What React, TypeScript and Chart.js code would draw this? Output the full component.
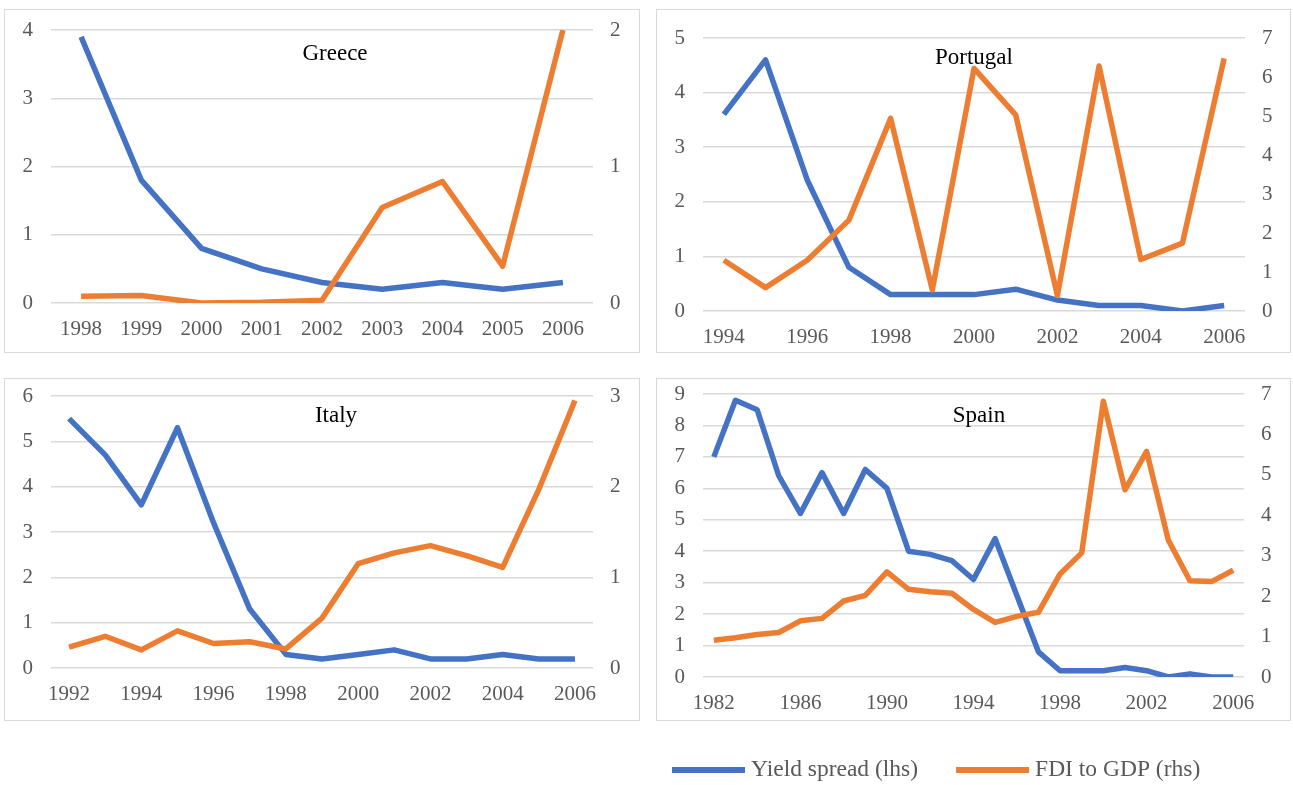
import React, { useEffect, useRef } from "react";
import { Chart, registerables } from "chart.js";

Chart.register(...registerables);

// ---------- DATA ----------
const greeceYears = ["1998", "1999", "2000", "2001", "2002", "2003", "2004", "2005", "2006"];
const greeceSpread = [3.9, 1.8, 0.8, 0.5, 0.3, 0.2, 0.3, 0.2, 0.3];
const greeceFdi = [0.05, 0.055, 0.0, 0.005, 0.02, 0.7, 0.89, 0.27, 2.0];

const portugalYears = ["1994", "1995", "1996", "1997", "1998", "1999", "2000", "2001", "2002", "2003", "2004", "2005", "2006"];
const portugalSpread = [3.6, 4.6, 2.4, 0.8, 0.3, 0.3, 0.3, 0.4, 0.2, 0.1, 0.1, 0.0, 0.1];
const portugalFdi = [1.3, 0.6, 1.3, 2.33, 4.94, 0.54, 6.22, 5.03, 0.4, 6.28, 1.32, 1.74, 6.48];

const italyYears = ["1992", "1993", "1994", "1995", "1996", "1997", "1998", "1999", "2000", "2001", "2002", "2003", "2004", "2005", "2006"];
const italySpread = [5.5, 4.7, 3.6, 5.3, 3.2, 1.3, 0.3, 0.2, 0.3, 0.4, 0.2, 0.2, 0.3, 0.2, 0.2];
const italyFdi = [0.23, 0.35, 0.2, 0.41, 0.27, 0.29, 0.21, 0.55, 1.15, 1.27, 1.35, 1.24, 1.11, 1.97, 2.95];

const spainYears = ["1982", "1983", "1984", "1985", "1986", "1987", "1988", "1989", "1990", "1991", "1992", "1993", "1994", "1995", "1996", "1997", "1998", "1999", "2000", "2001", "2002", "2003", "2004", "2005", "2006"];
const spainSpread = [7.0, 8.8, 8.5, 6.4, 5.2, 6.5, 5.2, 6.6, 6.0, 4.0, 3.9, 3.7, 3.1, 4.4, 2.6, 0.8, 0.2, 0.2, 0.2, 0.3, 0.2, 0.0, 0.1, 0.0, 0.0];
const spainFdi = [0.91, 0.97, 1.05, 1.1, 1.39, 1.45, 1.88, 2.02, 2.6, 2.17, 2.11, 2.07, 1.67, 1.35, 1.5, 1.6, 2.55, 3.07, 6.82, 4.63, 5.58, 3.39, 2.38, 2.36, 2.64];

const seriesNames = ["Yield spread (lhs)", "FDI to GDP (rhs)"];

// ---------- STYLE ----------
const BLUE = "#4472C4";
const ORANGE = "#ED7D31";
const GRID = "#D9D9D9";
const TEXT = "#595959";
const FONT = "'Liberation Serif', 'Times New Roman', serif";
const LINE_W = 5.5;

type PanelCfg = {
  title: string;
  labels: string[];
  spread: number[];
  fdi: number[];
  maxL: number;
  maxR: number;
  labelStep: number;
  box: { x: number; y: number; w: number; h: number };
  leftW: number;
  rightW: number;
  top: number;
  bottomH: number;
  titlePos: { x: number; y: number };
};

const panels: PanelCfg[] = [
  {
    title: "Greece", labels: greeceYears, spread: greeceSpread, fdi: greeceFdi, maxL: 4, maxR: 2, labelStep: 1,
    box: { x: 4, y: 9, w: 636, h: 344 }, leftW: 47, rightW: 47, top: 21, bottomH: 50, titlePos: { x: 331, y: 45 },
  },
  {
    title: "Portugal", labels: portugalYears, spread: portugalSpread, fdi: portugalFdi, maxL: 5, maxR: 7, labelStep: 2,
    box: { x: 656, y: 9, w: 635, h: 344 }, leftW: 47, rightW: 46, top: 29, bottomH: 42, titlePos: { x: 318, y: 49 },
  },
  {
    title: "Italy", labels: italyYears, spread: italySpread, fdi: italyFdi, maxL: 6, maxR: 3, labelStep: 2,
    box: { x: 4, y: 378, w: 636, h: 343 }, leftW: 47, rightW: 47, top: 18, bottomH: 53, titlePos: { x: 332, y: 38 },
  },
  {
    title: "Spain", labels: spainYears, spread: spainSpread, fdi: spainFdi, maxL: 9, maxR: 7, labelStep: 4,
    box: { x: 656, y: 378, w: 635, h: 343 }, leftW: 47, rightW: 47, top: 16, bottomH: 44, titlePos: { x: 323, y: 38 },
  },
];

const titlePlugin = {
  id: "panelTitle",
  afterDraw(chart: any, _args: any, opts: any) {
    const ctx = chart.ctx;
    ctx.save();
    ctx.font = `${opts.size}px ${FONT}`;
    ctx.fillStyle = "#000000";
    ctx.textAlign = "center";
    ctx.textBaseline = "middle";
    ctx.fillText(opts.text, opts.x, opts.y);
    ctx.restore();
  },
};

function Panel({ cfg }: { cfg: PanelCfg }) {
  const ref = useRef<HTMLCanvasElement | null>(null);
  useEffect(() => {
    if (!ref.current) return;
    const tickFont = { family: FONT, size: 21 };
    const chart = new Chart(ref.current, {
      type: "line",
      data: {
        labels: cfg.labels,
        datasets: [
          {
            label: seriesNames[0], data: cfg.spread, yAxisID: "yL", borderColor: BLUE, backgroundColor: BLUE,
            borderWidth: LINE_W, pointRadius: 0, tension: 0, borderJoinStyle: "round", order: 1,
          },
          {
            label: seriesNames[1], data: cfg.fdi, yAxisID: "yR", borderColor: ORANGE, backgroundColor: ORANGE,
            borderWidth: LINE_W, pointRadius: 0, tension: 0, borderJoinStyle: "round", order: 0,
          },
        ],
      },
      options: {
        animation: false,
        responsive: false,
        devicePixelRatio: 1,
        layout: { padding: { top: cfg.top, left: 0, right: 0, bottom: 0 } },
        plugins: {
          legend: { display: false },
          tooltip: { enabled: false },
          panelTitle: { text: cfg.title, x: cfg.titlePos.x, y: cfg.titlePos.y, size: 23 },
        } as any,
        scales: {
          x: {
            type: "category",
            offset: true,
            grid: { display: false, drawTicks: false },
            border: { display: false },
            ticks: {
              autoSkip: false, maxRotation: 0, minRotation: 0, color: TEXT, font: tickFont, padding: 14,
              callback: function (this: any, value: any, index: number) {
                return index % cfg.labelStep === 0 ? cfg.labels[index] : "";
              },
            },
            afterFit: (s: any) => { s.height = cfg.bottomH; s.paddingLeft = 0; s.paddingRight = 0; },
          },
          yL: {
            type: "linear", position: "left", min: 0, max: cfg.maxL,
            ticks: { stepSize: 1, color: TEXT, font: tickFont, padding: 18 },
            grid: { color: GRID, lineWidth: 1.5, drawTicks: false },
            border: { display: false },
            afterFit: (s: any) => { s.width = cfg.leftW; s.paddingTop = 0; s.paddingBottom = 0; },
          },
          yR: {
            type: "linear", position: "right", min: 0, max: cfg.maxR,
            ticks: { stepSize: 1, color: TEXT, font: tickFont, padding: 17 },
            grid: { display: false, drawTicks: false },
            border: { display: false },
            afterFit: (s: any) => { s.width = cfg.rightW; s.paddingTop = 0; s.paddingBottom = 0; },
          },
        },
      } as any,
      plugins: [titlePlugin],
    });
    return () => chart.destroy();
  }, [cfg]);
  const b = cfg.box;
  return (
    <div
      style={{
        position: "absolute", left: b.x, top: b.y, width: b.w, height: b.h,
        boxSizing: "border-box", border: `1px solid ${GRID}`,
      }}
    >
      <canvas
        ref={ref}
        width={b.w}
        height={b.h}
        style={{ position: "absolute", left: -1, top: -1, width: b.w, height: b.h }}
      />
    </div>
  );
}

// Custom legend drawn by a plugin on a legend-only chart
const legendLayout = { startX: 672, y: 30, boxW: 73, boxH: 6, gap: 6, itemGap: 38, fontSize: 23.5 };

const customLegendPlugin = {
  id: "customLegend",
  afterDraw(chart: any) {
    const ctx = chart.ctx;
    const L = legendLayout;
    ctx.save();
    ctx.font = `${L.fontSize}px ${FONT}`;
    ctx.textBaseline = "middle";
    ctx.textAlign = "left";
    let x = L.startX;
    chart.data.datasets.forEach((ds: any) => {
      ctx.fillStyle = ds.borderColor;
      ctx.fillRect(x, L.y - L.boxH / 2, L.boxW, L.boxH);
      x += L.boxW + L.gap;
      ctx.fillStyle = TEXT;
      ctx.fillText(ds.label, x, L.y);
      x += ctx.measureText(ds.label).width + L.itemGap;
    });
    ctx.restore();
  },
};

function LegendChart() {
  const ref = useRef<HTMLCanvasElement | null>(null);
  useEffect(() => {
    if (!ref.current) return;
    const chart = new Chart(ref.current, {
      type: "line",
      data: {
        labels: [],
        datasets: [
          { label: seriesNames[0], data: [], borderColor: BLUE, backgroundColor: BLUE, borderWidth: LINE_W },
          { label: seriesNames[1], data: [], borderColor: ORANGE, backgroundColor: ORANGE, borderWidth: LINE_W },
        ],
      },
      options: {
        animation: false,
        responsive: false,
        devicePixelRatio: 1,
        scales: { x: { display: false }, y: { display: false } },
        plugins: { tooltip: { enabled: false }, legend: { display: false } },
      } as any,
      plugins: [customLegendPlugin],
    });
    return () => chart.destroy();
  }, []);
  return (
    <canvas
      ref={ref}
      width={1293}
      height={45}
      style={{ position: "absolute", left: 0, top: 740, width: 1293, height: 45 }}
    />
  );
}

export default function App() {
  return (
    <div style={{ position: "absolute", left: 0, top: 0, width: 1293, height: 785, background: "#ffffff", overflow: "hidden" }}>
      {panels.map((p) => (
        <Panel key={p.title} cfg={p} />
      ))}
      <LegendChart />
    </div>
  );
}
